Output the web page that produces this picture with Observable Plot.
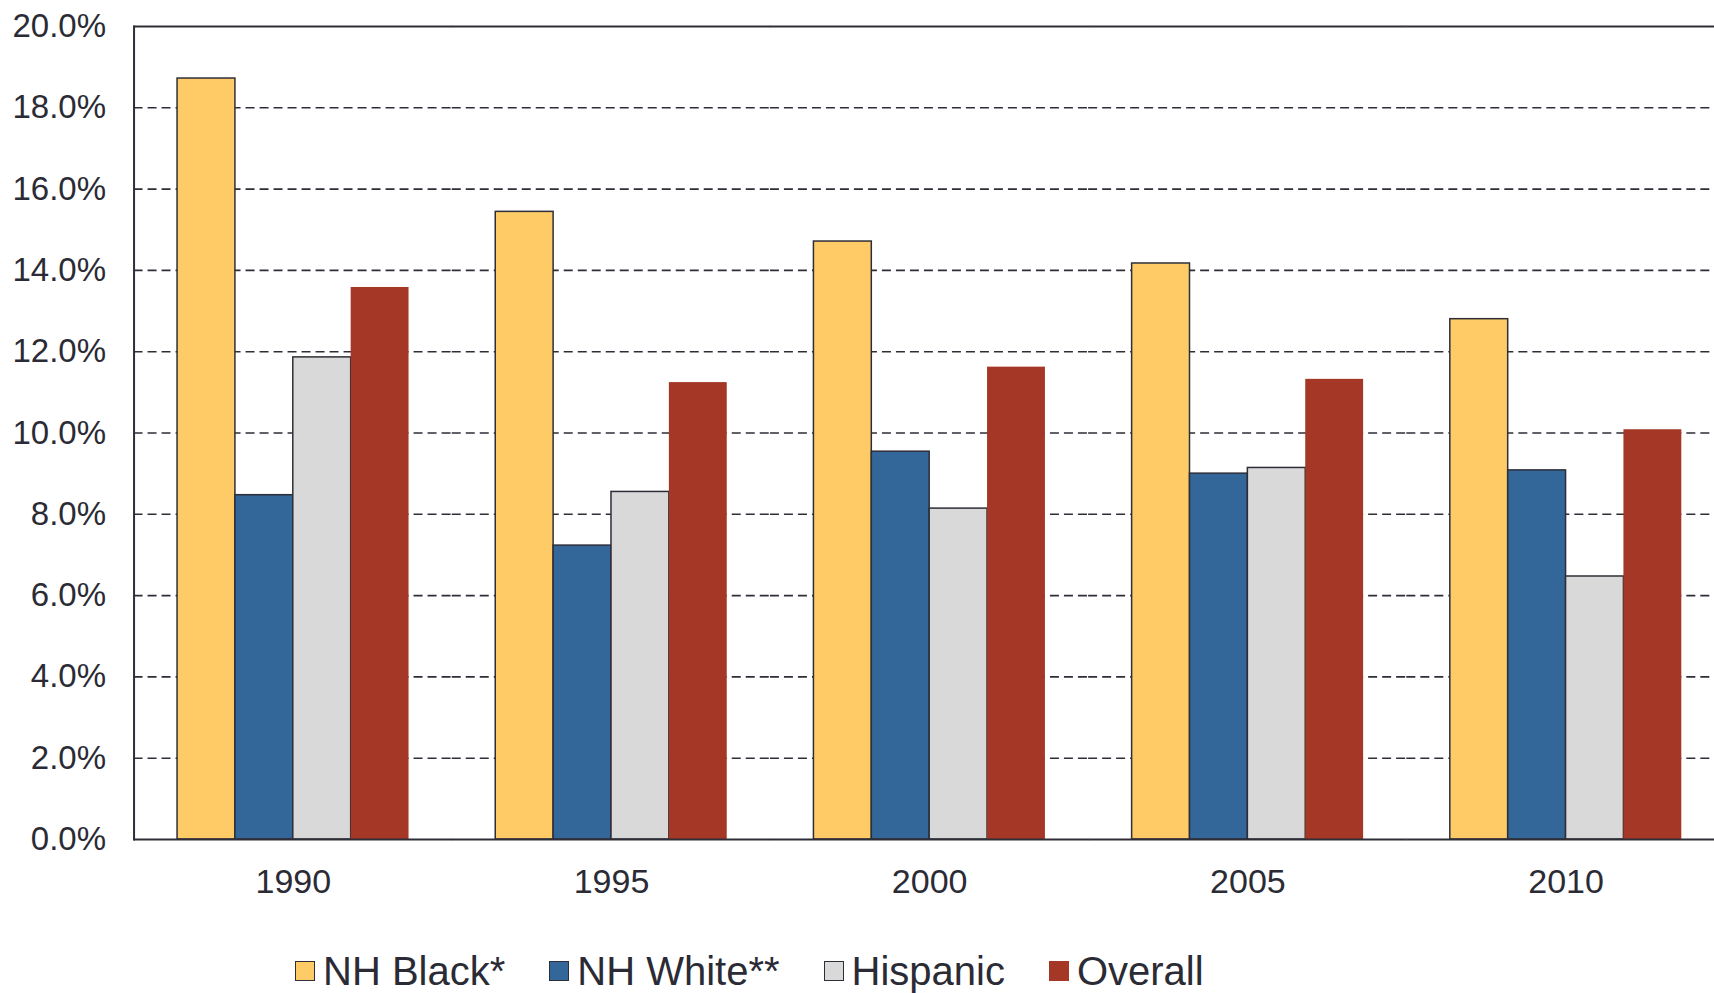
<!DOCTYPE html>
<html>
<head>
<meta charset="utf-8">
<script src="https://cdn.jsdelivr.net/npm/d3@7"></script>
<script src="https://cdn.jsdelivr.net/npm/@observablehq/plot@0.6"></script>
<style>
  html, body { margin: 0; padding: 0; background: white; }
  #wrap { position: relative; width: 1714px; height: 993px; overflow: hidden; font-family: "Liberation Sans", Arial, sans-serif; color: #2b2b35; }
  #legend { position: absolute; left: 295px; top: 950px; height: 42px; display: flex; align-items: center; font-size: 40px; }
  .item { display: flex; align-items: center; margin-right: 44px; }
  .sw { width: 18px; height: 18px; border: 1.5px solid #2e2e38; margin-right: 8px; }
  .sw.noborder { border-color: transparent; }
</style>
</head>
<body>
<div id="wrap"><div id="chart"></div><div id="legend"></div></div>
<script>
const years = ["1990", "1995", "2000", "2005", "2010"];
const series = ["NH Black*", "NH White**", "Hispanic", "Overall"];
const nhBlack = [18.72, 15.44, 14.71, 14.17, 12.80];
const nhWhite = [8.47, 7.23, 9.54, 9.00, 9.08];
const hispanic = [11.86, 8.55, 8.14, 9.14, 6.47];
const overall = [13.58, 11.24, 11.62, 11.32, 10.08];
const colors = ["#FECB67", "#336699", "#D9D9D9", "#A43726"];
const yTicks = [0, 2, 4, 6, 8, 10, 12, 14, 16, 18, 20];

const valuesBySeries = [nhBlack, nhWhite, hispanic, overall];
const data = years.flatMap((yr, i) => series.map((s, j) => ({year: yr, series: s, value: valuesBySeries[j][i]})));
const ink = "#2e2e38";
const ext = -43.5; // extend facet-wide rules across the gaps between year groups

const chart = Plot.plot({
  width: 1714,
  height: 910,
  marginLeft: 133,
  marginRight: 0,
  marginTop: 26,
  marginBottom: 71,
  style: {fontFamily: "Liberation Sans, Arial, sans-serif", color: "#2b2b35", background: "white"},
  fx: {domain: years, paddingInner: 0.2725, paddingOuter: 0.1206, align: 0.574, round: false, label: null},
  x: {domain: series, padding: 0, round: false, axis: null},
  y: {domain: [0, 20], label: null},
  color: {domain: series, range: colors},
  marks: [
    Plot.ruleY(yTicks.slice(1, -1), {stroke: ink, strokeWidth: 1.6, strokeDasharray: "9,5", insetLeft: ext, insetRight: ext}),
    Plot.barY(data.filter(d => d.series !== "Overall"), {fx: "year", x: "series", y: "value", fill: "series", stroke: ink, strokeWidth: 1.5}),
    Plot.barY(data.filter(d => d.series === "Overall"), {fx: "year", x: "series", y: "value", fill: "series"}),
    Plot.ruleY([0, 20], {stroke: ink, strokeWidth: 2, insetLeft: ext, insetRight: ext}),
    Plot.frame({anchor: "left", stroke: ink, strokeWidth: 2, facetAnchor: "left", insetLeft: ext}),
    Plot.axisY({ticks: yTicks, tickSize: 0, tickPadding: 28 - ext, tickFormat: d => d.toFixed(1) + "%", fontSize: 33, label: null}),
    Plot.axisFx({anchor: "bottom", tickSize: 0, tickPadding: 29, fontSize: 34, label: null})
  ]
});
document.getElementById("chart").appendChild(chart);

const legend = d3.select("#legend");
series.forEach((s, i) => {
  const item = legend.append("div").attr("class", "item");
  item.append("div").attr("class", "sw" + (s === "Overall" ? " noborder" : "")).style("background", colors[i]);
  item.append("span").text(s);
});
</script>
</body>
</html>
